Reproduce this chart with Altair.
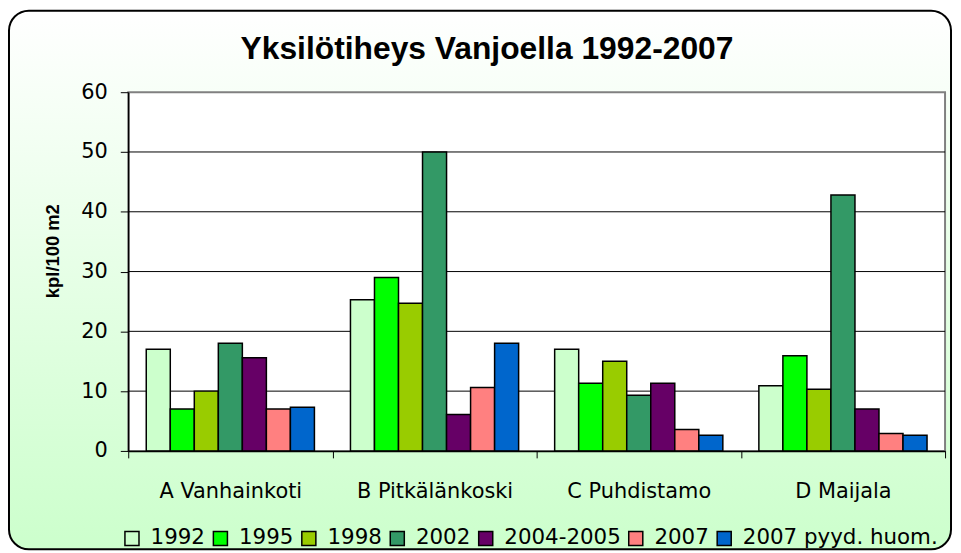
import altair as alt
import pandas as pd

sites = ["A Vanhainkoti", "B Pitkälänkoski", "C Puhdistamo", "D Maijala"]
years = ["1992", "1995", "1998", "2002", "2004-2005", "2007", "2007 pyyd. huom."]
colors = ["#CCFFCC", "#00FF00", "#99CC00", "#339966", "#660066", "#FF8080", "#0066CC"]

v1992 = [17.0, 25.3, 17.0, 10.9]
v1995 = [7.0, 29.0, 11.3, 15.9]
v1998 = [10.0, 24.7, 15.0, 10.3]
v2002 = [18.0, 50.0, 9.3, 42.8]
v2004 = [15.6, 6.1, 11.3, 7.0]
v2007 = [7.0, 10.6, 3.6, 2.9]
v2007p = [7.3, 18.0, 2.6, 2.6]
series = [v1992, v1995, v1998, v2002, v2004, v2007, v2007p]

y_ticks = [0, 10, 20, 30, 40, 50, 60]
grid_ticks = [10, 20, 30, 40, 50]

rows = []
for yr, vals in zip(years, series):
    for s, v in zip(sites, vals):
        rows.append({"site": s, "year": yr, "value": v})
df = pd.DataFrame(rows)

FONT = "DejaVu Sans"
TFONT = "Liberation Sans"
W, H = 822, 361

bg = alt.Chart(alt.Data(values=[{"a": 1}])).mark_rect(
    fill={"gradient": "linear", "x1": 0, "y1": 0, "x2": 0, "y2": 1,
          "stops": [{"offset": 0, "color": "#FFFFFF"}, {"offset": 1, "color": "#CCFFCC"}]},
    stroke="#000000", strokeWidth=2, cornerRadius=20,
).encode(x=alt.value(-120), x2=alt.value(W + 6), y=alt.value(-82), y2=alt.value(H + 99))

plot_bg = alt.Chart(alt.Data(values=[{"a": 1}])).mark_rect(
    fill="#FFFFFF", stroke="#808080", strokeWidth=2,
).encode(x=alt.value(0), x2=alt.value(W), y=alt.value(0), y2=alt.value(H))

grid = alt.Chart(pd.DataFrame({"value": grid_ticks})).mark_rule(
    color="#000000", strokeWidth=1
).encode(y=alt.Y("value:Q"))

bars = alt.Chart(df).mark_bar(stroke="#000000", strokeWidth=1.5).encode(
    x=alt.X("site:N", sort=sites, title=None,
            scale=alt.Scale(paddingInner=0, paddingOuter=0),
            axis=alt.Axis(labelAngle=0, labelFontSize=21, labelFont=FONT, labelColor="#000000",
                          labelPadding=23, tickBand="extent", tickSize=7, tickColor="#000000",
                          domainColor="#000000", domainWidth=1.5, zindex=1)),
    xOffset=alt.XOffset("year:N", sort=years,
                        scale=alt.Scale(paddingOuter=0.75, paddingInner=0)),
    y=alt.Y("value:Q", title=None,
            scale=alt.Scale(domain=[0, 60], nice=False),
            axis=alt.Axis(values=y_ticks, grid=False, labelFontSize=21, labelFont=FONT,
                          labelColor="#000000", labelPadding=13, tickSize=8, tickColor="#000000",
                          domainColor="#000000", domainWidth=1.5, zindex=1)),
    color=alt.Color("year:N", sort=years, title=None,
                    scale=alt.Scale(domain=years, range=colors),
                    legend=alt.Legend(orient="none", legendX=-7, legendY=438, direction="horizontal",
                                      columns=7, symbolType="square", symbolSize=200,
                                      symbolStrokeColor="#000000", symbolStrokeWidth=1.5,
                                      labelFont=FONT, labelFontSize=21.5, labelColor="#000000",
                                      labelOffset=8, columnPadding=4, padding=0,
                                      labelLimit=300)),
)

title = alt.Chart(alt.Data(values=[{"t": "Yksilötiheys Vanjoella 1992-2007"}])).mark_text(
    font=TFONT, fontSize=32, fontWeight="bold", color="#000000", align="center", baseline="alphabetic"
).encode(text="t:N", x=alt.value(361), y=alt.value(-33))

ytitle = alt.Chart(alt.Data(values=[{"t": "kpl/100 m2"}])).mark_text(
    font=TFONT, fontSize=18.5, fontWeight="bold", color="#000000", align="center",
    baseline="middle", angle=270
).encode(text="t:N", x=alt.value(-76), y=alt.value(160))

chart = alt.layer(bg, plot_bg, grid, bars, title, ytitle).properties(
    width=W, height=H, autosize="none",
    padding={"left": 121, "top": 83, "right": 8, "bottom": 100},
).configure_view(stroke=None)

chart.save("out.html", embed_options={"renderer": "svg", "actions": False})
